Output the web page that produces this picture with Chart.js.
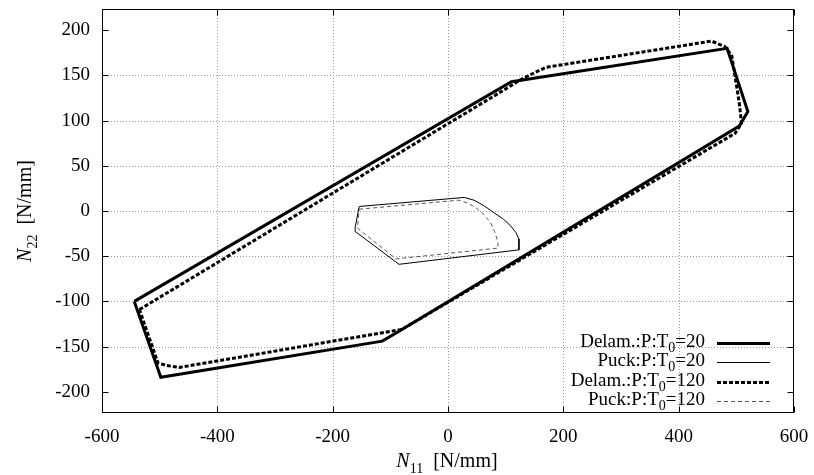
<!DOCTYPE html>
<html><head><meta charset="utf-8">
<script src="https://cdn.jsdelivr.net/npm/chart.js@4/dist/chart.umd.min.js"></script>
<style>html,body{margin:0;padding:0;background:#fff}#wrap{width:814px;height:475px;position:relative}</style>
</head><body><div id="wrap"><canvas id="c"></canvas></div>
<script>
// ---- data ----
const xTicks = [-600, -400, -200, 0, 200, 400, 600];
const yTicks = [-200, -150, -100, -50, 0, 50, 100, 150, 200];
const xGridValues = [-400, -200, 0, 200, 400];
const yGridValues = [-150, -100, -50, 0, 50, 100, 150];
const seriesLabels = ["Delam.:P:T_0=20", "Puck:P:T_0=20", "Delam.:P:T_0=120", "Puck:P:T_0=120"];
const xTitle = [{t:"N", italic:true}, {t:"11", sub:true}, {t:"  [N/mm]"}];
const yTitle = [{t:"N", italic:true}, {t:"22", sub:true}, {t:"  [N/mm]"}];

const delam20X = [-544, 110, 484, 520, 505, -90, -114, -498, -544];
const delam20Y = [-100, 143, 180, 110, 94, -135, -144, -184, -100];

const puck20X = [-154, 28, 45, 62, 80, 96, 108, 118, 123, 123, -85, -160, -161, -154];
const puck20Y = [5, 15, 12, 6, -2, -9, -16, -24, -31, -43, -59, -23, -18, 5];

const delam120X = [-535, 100, 125, 150, 170, 457, 480, 492, 505, 509, 498, -80, -465, -488, -503, -535];
const delam120Y = [-109, 135, 145, 153, 159, 188, 182, 172, 120, 97, 86, -131, -173, -171, -168, -109];

const puck120X = [-154, 19, 33, 48, 62, 73, 81, 86, 87, -90, -157, -154];
const puck120Y = [2, 12, 9, 4, -4, -12, -23, -33, -41, -53, -19, 2];

// ---- build ----
const pts = (xs, ys) => xs.map((x, i) => ({x: x, y: ys[i]}));
const FONT = '"Liberation Serif", "Times New Roman", serif';
Chart.defaults.font.family = FONT;

function segFont(s, size) {
  const sz = s.sub ? Math.round(size * 0.72) : size;
  return (s.italic ? 'italic ' : '') + sz + 'px ' + FONT;
}
function parseLabel(lbl) {
  const segs = []; let buf = '';
  for (let i = 0; i < lbl.length; i++) {
    if (lbl[i] === '_' && i + 1 < lbl.length) {
      if (buf) segs.push({t: buf}); buf = '';
      segs.push({t: lbl[i + 1], sub: true}); i++;
    } else buf += lbl[i];
  }
  if (buf) segs.push({t: buf});
  return segs;
}
function richWidth(ctx, segs, size) {
  let w = 0;
  segs.forEach(s => { ctx.font = segFont(s, size); w += ctx.measureText(s.t).width; });
  return w;
}
function drawRich(ctx, segs, x, y, align, size) {
  const w = richWidth(ctx, segs, size);
  let cx = align === 'right' ? x - w : (align === 'center' ? x - w / 2 : x);
  ctx.textBaseline = 'alphabetic';
  ctx.textAlign = 'left';
  segs.forEach(s => {
    ctx.font = segFont(s, size);
    ctx.fillText(s.t, cx, y + (s.sub ? size * 0.28 : 0));
    cx += ctx.measureText(s.t).width;
  });
}

const datasets = [
  {label: seriesLabels[0], data: pts(delam20X, delam20Y), borderColor: '#000', borderWidth: 3, borderDash: []},
  {label: seriesLabels[1], data: pts(puck20X, puck20Y), borderColor: '#000', borderWidth: 1, borderDash: []},
  {label: seriesLabels[2], data: pts(delam120X, delam120Y), borderColor: '#000', borderWidth: 3, borderDash: [4, 2]},
  {label: seriesLabels[3], data: pts(puck120X, puck120Y), borderColor: '#555', borderWidth: 1, borderDash: [4, 3]}
].map(d => Object.assign(d, {showLine: true, fill: false, pointRadius: 0, tension: 0,
  borderJoinStyle: 'miter', borderCapStyle: 'butt'}));

const decor = {
  id: 'decor',
  beforeDatasetsDraw(chart) {
    const {ctx, chartArea: a, scales: {x, y}} = chart;
    ctx.save();
    ctx.strokeStyle = '#999'; ctx.lineWidth = 1; ctx.setLineDash([1, 2]);
    xGridValues.forEach(v => {
      const px = Math.round(x.getPixelForValue(v)) + 0.5;
      ctx.beginPath(); ctx.moveTo(px, a.top); ctx.lineTo(px, a.bottom); ctx.stroke();
    });
    yGridValues.forEach(v => {
      const py = Math.round(y.getPixelForValue(v)) + 0.5;
      ctx.beginPath(); ctx.moveTo(a.left, py); ctx.lineTo(a.right, py); ctx.stroke();
    });
    ctx.restore();
  },
  afterDatasetsDraw(chart) {
    const {ctx, chartArea: a, scales: {x, y}} = chart;
    ctx.save();
    ctx.strokeStyle = '#000'; ctx.lineWidth = 1; ctx.setLineDash([]);
    const L = Math.round(a.left) + 0.5, R = Math.round(a.right) - 0.5;
    const T = Math.round(a.top) + 0.5, B = Math.round(a.bottom) - 0.5;
    ctx.strokeRect(L, T, R - L, B - T);
    const tl = 6;
    ctx.beginPath();
    xTicks.forEach(v => {
      const px = Math.round(x.getPixelForValue(v)) + 0.5;
      ctx.moveTo(px, B); ctx.lineTo(px, B - tl);
      ctx.moveTo(px, T); ctx.lineTo(px, T + tl);
    });
    yTicks.forEach(v => {
      const py = Math.round(y.getPixelForValue(v)) + 0.5;
      ctx.moveTo(L, py); ctx.lineTo(L + tl, py);
      ctx.moveTo(R, py); ctx.lineTo(R - tl, py);
    });
    ctx.stroke();

    // legend
    ctx.fillStyle = '#000';
    const rowY = [343, 362, 381.5, 400.5];
    chart.data.datasets.forEach((ds, i) => {
      const ly = rowY[i];
      drawRich(ctx, parseLabel(ds.label), 705, ly + 4, 'right', 19);
      ctx.strokeStyle = ds.borderColor; ctx.lineWidth = ds.borderWidth;
      ctx.setLineDash(ds.borderDash);
      ctx.beginPath();
      const yy = ds.borderWidth % 2 ? Math.round(ly) + 0.5 : Math.round(ly);
      ctx.moveTo(717, yy); ctx.lineTo(770, yy); ctx.stroke();
    });
    ctx.setLineDash([]);

    // axis titles
    ctx.fillStyle = '#000';
    drawRich(ctx, xTitle, (a.left + a.right) / 2 - 1, 467, 'center', 20);
    ctx.save();
    ctx.translate(31, (a.top + a.bottom) / 2);
    ctx.rotate(-Math.PI / 2);
    drawRich(ctx, yTitle, 0, 0, 'center', 20);
    ctx.restore();
    ctx.restore();
  }
};

new Chart(document.getElementById('c'), {
  type: 'scatter',
  data: {datasets: datasets},
  options: {
    responsive: true, maintainAspectRatio: false, animation: false,
    layout: {padding: {left: 0, right: 20, top: 9, bottom: 0}},
    plugins: {legend: {display: false}, tooltip: {enabled: false}},
    scales: {
      x: {
        type: 'linear', min: -600, max: 600,
        afterBuildTicks: s => { s.ticks = xTicks.map(v => ({value: v})); },
        afterFit: s => { s.height = 62; s.paddingLeft = 0; s.paddingRight = 0; },
        grid: {display: false, drawTicks: false},
        border: {display: false},
        ticks: {color: '#000', padding: 13, maxRotation: 0, font: {family: FONT, size: 19}}
      },
      y: {
        type: 'linear', min: -223.5, max: 223.5,
        afterBuildTicks: s => { s.ticks = yTicks.map(v => ({value: v})); },
        afterFit: s => { s.width = 102; s.paddingTop = 0; s.paddingBottom = 0; },
        grid: {display: false, drawTicks: false},
        border: {display: false},
        ticks: {color: '#000', padding: 12, font: {family: FONT, size: 19}}
      }
    }
  },
  plugins: [decor]
});
</script>
</body></html>
